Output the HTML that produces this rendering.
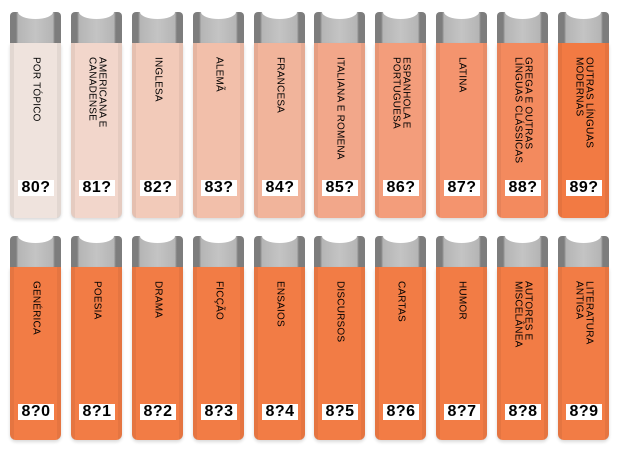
<!DOCTYPE html>
<html><head><meta charset="utf-8"><style>
body{margin:0;width:620px;height:456px;background:#fff;position:relative;overflow:hidden;font-family:"Liberation Sans",sans-serif}
.b{position:absolute;width:51px}
.top{position:absolute;left:0;top:0;width:51px;height:31px;background:linear-gradient(90deg,#7d7d7d 0,#7d7d7d 12%,#b5b5b5 16%,#c4c4c4 50%,#b5b5b5 84%,#7d7d7d 88%,#7d7d7d 100%);border-radius:4px 4px 0 0}
.top:after{content:"";position:absolute;left:8px;right:8px;top:0;height:7px;background:#fff;border-radius:0 0 50% 50%/0 0 100% 100%}
.body{position:absolute;left:0;top:31px;width:51px;height:175px;border-radius:0 0 6px 6px;box-shadow:0 2px 3px rgba(0,0,0,.15)}
.body:before{content:"";position:absolute;left:0;top:0;bottom:0;width:4px;background:rgba(0,0,0,.05);border-radius:0 0 0 6px}
.body:after{content:"";position:absolute;right:0;top:0;bottom:0;width:4px;background:rgba(0,0,0,.05);border-radius:0 0 6px 0}
.t{position:absolute;top:14px;left:0;width:51px;height:130px;display:flex;justify-content:center}
.t span{writing-mode:vertical-rl;font-size:10px;line-height:10px;color:#000;letter-spacing:.2px}
.n{position:absolute;left:8px;width:36px;top:137px;height:16px;background:#fff;font-weight:bold;font-size:16px;line-height:16px;text-align:center;color:#000;letter-spacing:.5px}
</style></head><body>
<div class="b" style="left:10px;top:12px"><div class="top"></div><div class="body" style="background:#efe3dd"><div class="t"><span>POR TÓPICO</span></div><div class="n">80?</div></div></div>
<div class="b" style="left:71px;top:12px"><div class="top"></div><div class="body" style="background:#f2d6cb"><div class="t"><span>AMERICANA E<br>CANADENSE</span></div><div class="n">81?</div></div></div>
<div class="b" style="left:132px;top:12px"><div class="top"></div><div class="body" style="background:#f2cab9"><div class="t"><span>INGLESA</span></div><div class="n">82?</div></div></div>
<div class="b" style="left:193px;top:12px"><div class="top"></div><div class="body" style="background:#f2bfaa"><div class="t"><span>ALEMÃ</span></div><div class="n">83?</div></div></div>
<div class="b" style="left:254px;top:12px"><div class="top"></div><div class="body" style="background:#f1b49b"><div class="t"><span>FRANCESA</span></div><div class="n">84?</div></div></div>
<div class="b" style="left:314px;top:12px"><div class="top"></div><div class="body" style="background:#f2a78a"><div class="t"><span>ITALIANA E ROMENA</span></div><div class="n">85?</div></div></div>
<div class="b" style="left:375px;top:12px"><div class="top"></div><div class="body" style="background:#f39d7b"><div class="t"><span>ESPANHOLA E<br>PORTUGUESA</span></div><div class="n">86?</div></div></div>
<div class="b" style="left:436px;top:12px"><div class="top"></div><div class="body" style="background:#f4946e"><div class="t"><span>LATINA</span></div><div class="n">87?</div></div></div>
<div class="b" style="left:497px;top:12px"><div class="top"></div><div class="body" style="background:#f38a5e"><div class="t"><span>GREGA E OUTRAS<br>LÍNGUAS CLÁSSICAS</span></div><div class="n">88?</div></div></div>
<div class="b" style="left:558px;top:12px"><div class="top"></div><div class="body" style="background:#f27a43"><div class="t"><span>OUTRAS LÍNGUAS<br>MODERNAS</span></div><div class="n">89?</div></div></div>

<div class="b" style="left:10px;top:236px"><div class="top"></div><div class="body" style="background:#f27c45;height:173px"><div class="t"><span>GENÉRICA</span></div><div class="n">8?0</div></div></div>
<div class="b" style="left:71px;top:236px"><div class="top"></div><div class="body" style="background:#f27c45;height:173px"><div class="t"><span>POESIA</span></div><div class="n">8?1</div></div></div>
<div class="b" style="left:132px;top:236px"><div class="top"></div><div class="body" style="background:#f27c45;height:173px"><div class="t"><span>DRAMA</span></div><div class="n">8?2</div></div></div>
<div class="b" style="left:193px;top:236px"><div class="top"></div><div class="body" style="background:#f27c45;height:173px"><div class="t"><span>FICÇÃO</span></div><div class="n">8?3</div></div></div>
<div class="b" style="left:254px;top:236px"><div class="top"></div><div class="body" style="background:#f27c45;height:173px"><div class="t"><span>ENSAIOS</span></div><div class="n">8?4</div></div></div>
<div class="b" style="left:314px;top:236px"><div class="top"></div><div class="body" style="background:#f27c45;height:173px"><div class="t"><span>DISCURSOS</span></div><div class="n">8?5</div></div></div>
<div class="b" style="left:375px;top:236px"><div class="top"></div><div class="body" style="background:#f27c45;height:173px"><div class="t"><span>CARTAS</span></div><div class="n">8?6</div></div></div>
<div class="b" style="left:436px;top:236px"><div class="top"></div><div class="body" style="background:#f27c45;height:173px"><div class="t"><span>HUMOR</span></div><div class="n">8?7</div></div></div>
<div class="b" style="left:497px;top:236px"><div class="top"></div><div class="body" style="background:#f27c45;height:173px"><div class="t"><span>AUTORES E<br>MISCELÂNEA</span></div><div class="n">8?8</div></div></div>
<div class="b" style="left:558px;top:236px"><div class="top"></div><div class="body" style="background:#f27c45;height:173px"><div class="t"><span>LITERATURA<br>ANTIGA</span></div><div class="n">8?9</div></div></div>
</body></html>
